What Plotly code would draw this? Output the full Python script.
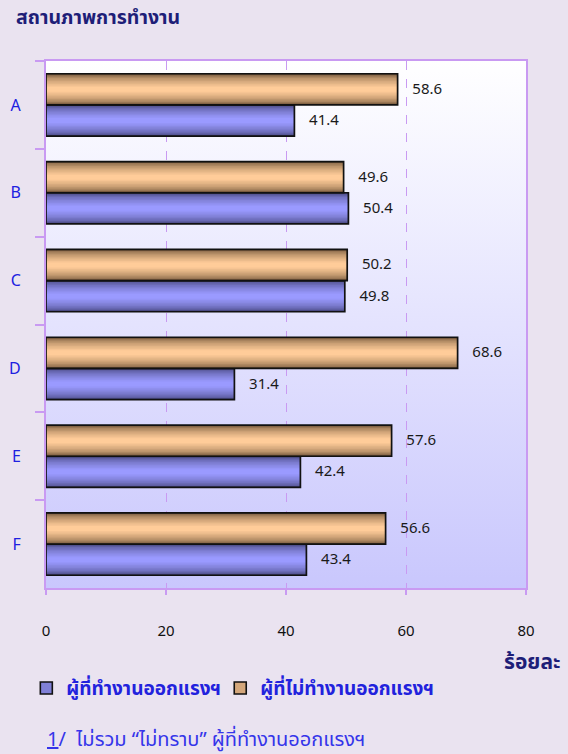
import base64
import plotly.graph_objects as go

# ---------------- data ----------------
categories = ["A", "B", "C", "D", "E", "F"]
working = [41.4, 50.4, 49.8, 31.4, 42.4, 43.4]          # ผู้ที่ทำงานออกแรงฯ
not_working = [58.6, 49.6, 50.2, 68.6, 57.6, 56.6]      # ผู้ที่ไม่ทำงานออกแรงฯ
series_names = ["ผู้ที่ทำงานออกแรงฯ", "ผู้ที่ไม่ทำงานออกแรงฯ"]
x_ticks = [0, 20, 40, 60, 80]

title_text = "สถานภาพการทำงาน"
unit_text = "ร้อยละ"
note_text = "<u>1</u>/  ไม่รวม “ไม่ทราบ” ผู้ที่ทำงานออกแรงฯ"

# ---------------- style ----------------
FONT = "Tahoma, 'Noto Sans Thai', 'Leelawadee UI', 'DejaVu Sans', sans-serif"
BAR_W = 0.355
N_LAYERS = 10
AXIS_COL = "#C99AF2"


def hex2rgb(h):
    h = h.lstrip("#")
    return tuple(int(h[i:i + 2], 16) for i in (0, 2, 4))


def mix(c1, c2, t):
    a, b = hex2rgb(c1), hex2rgb(c2)
    return "rgb(%d,%d,%d)" % tuple(round(a[k] + (b[k] - a[k]) * t) for k in range(3))


fig = go.Figure()


def add_series(values, name, dark, light, base_offset, legend_id):
    for i in range(N_LAYERS):
        frac = i / (N_LAYERS - 1)
        inset = frac * 0.42 * BAR_W
        t = frac ** 0.55
        fig.add_trace(go.Bar(
            x=values, y=categories, orientation="h",
            offset=base_offset + inset, width=BAR_W - 2 * inset,
            marker=dict(color=mix(dark, light, t), line=dict(width=0)),
            showlegend=False, hoverinfo="skip" if i else None, name=name,
        ))
    # outline + value labels
    fig.add_trace(go.Bar(
        x=values, y=categories, orientation="h",
        offset=base_offset, width=BAR_W,
        marker=dict(color="rgba(0,0,0,0)", line=dict(width=1.7, color="#111111")),
        texttemplate="\u00a0\u00a0\u00a0%{x:.1f}", textposition="outside",
        textfont=dict(size=15, color="#1a1a1a", family=FONT),
        cliponaxis=False, showlegend=False, hoverinfo="skip",
    ))
    # legend entry
    fig.add_trace(go.Bar(
        x=[None], y=[None], orientation="h", name=name, legend=legend_id,
        marker=dict(color=mix(dark, light, 0.7), line=dict(width=1.6, color="#111111")),
    ))


add_series(working, series_names[0], "#45457A", "#9A9AFF", 0.0, "legend")
add_series(not_working, series_names[1], "#6E5236", "#FFCC99", -BAR_W, "legend2")

# background gradient for the plot area
svg = ("<svg xmlns='http://www.w3.org/2000/svg' width='10' height='100' "
       "viewBox='0 0 10 100' preserveAspectRatio='none'><defs>"
       "<linearGradient id='g' x1='0' y1='0' x2='0' y2='1'>"
       "<stop offset='0' stop-color='#FFFFFF'/><stop offset='1' stop-color='#C9C7FD'/>"
       "</linearGradient></defs><rect width='10' height='100' fill='url(#g)'/></svg>")
bg_src = "data:image/svg+xml;base64," + base64.b64encode(svg.encode()).decode()

legend_style = dict(orientation="h", xanchor="left", y=-0.19, yanchor="middle",
                    font=dict(size=19, color="#2222DD", weight="bold"),
                    bgcolor="rgba(0,0,0,0)")

fig.update_layout(
    width=568, height=754,
    margin=dict(l=46, r=42, t=61, b=166),
    paper_bgcolor="#EAE3F0",
    plot_bgcolor="rgba(0,0,0,0)",
    barmode="overlay",
    font=dict(family=FONT),
    images=[dict(source=bg_src, xref="paper", yref="paper", x=0, y=1,
                 sizex=1, sizey=1, xanchor="left", yanchor="top",
                 sizing="stretch", layer="below")],
    xaxis=dict(range=[0, 80], tickvals=x_ticks, ticks="outside", ticklen=5,
               tickcolor=AXIS_COL, tickwidth=2, automargin=False,
               showline=True, linecolor=AXIS_COL, linewidth=2, mirror=True,
               showgrid=True, gridcolor="#C99AF2", griddash="dash", gridwidth=1,
               zeroline=False, ticklabelstandoff=23,
               tickfont=dict(size=15, color="#111111")),
    yaxis=dict(autorange="reversed", type="category", tickson="boundaries",
               ticks="outside", ticklen=9, tickcolor=AXIS_COL, tickwidth=2,
               automargin=False,
               showline=True, linecolor=AXIS_COL, linewidth=2, mirror=True,
               showgrid=False, ticklabelstandoff=20,
               tickfont=dict(size=16, color="#2020E0")),
    legend=dict(x=-0.041, **legend_style),
    legend2=dict(x=0.363, **legend_style),
    annotations=[
        dict(text=title_text, xref="paper", yref="paper", x=-0.066, y=1.082,
             xanchor="left", yanchor="middle", showarrow=False,
             font=dict(size=19.5, color="#1E1E78", weight="bold")),
        dict(text=unit_text, xref="paper", yref="paper", x=1.078, y=-0.142,
             xanchor="right", yanchor="middle", showarrow=False,
             font=dict(size=21, color="#1E1E78", weight="bold")),
        dict(text=note_text, xref="paper", yref="paper", x=-0.002, y=-0.288,
             xanchor="left", yanchor="middle", showarrow=False,
             font=dict(size=20, color="#3535EA")),
    ],
)

fig.write_html(
    "out.html",
    config={"displayModeBar": False},
    post_script="document.body.style.margin='0';document.body.style.overflow='hidden';",
)
